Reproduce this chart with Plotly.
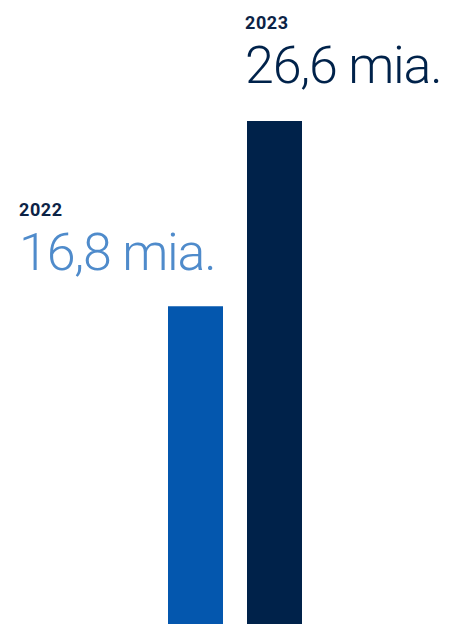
import plotly.graph_objects as go

years = ["2022", "2023"]
values = [16.8, 26.6]
value_labels = ["16,8 mia.", "26,6 mia."]
bar_colors = ["#0457AE", "#00224A"]
value_colors = ["#4F8BCB", "#00224A"]
year_color = "#0C2346"

W, H = 467, 624
px_per_unit = 503 / 26.6
ymax = H / px_per_unit
step = 79.0
c0 = 195.5
xmin = -c0 / step
xmax = xmin + W / step

fig = go.Figure()
fig.add_trace(go.Bar(
    x=[0, 1], y=values, width=55 / step,
    marker=dict(color=bar_colors, line=dict(width=0)),
    hoverinfo="skip",
))

# label box positions in pixels: (left x, bottom y)
label_pos = [(17.0, 285.0), (242.5, 98.0)]
font = "Roboto, Arial, sans-serif"
for i, (lx, by) in enumerate(label_pos):
    txt = ("<span style='font-size:18px;font-weight:700;letter-spacing:0.6px;color:%s'>%s</span><br>"
           "<span style='font-size:52px;font-weight:300;letter-spacing:-1.2px;color:%s'>%s</span>"
           % (year_color, years[i], value_colors[i], value_labels[i]))
    fig.add_annotation(x=lx / W, y=1 - by / H, xref="paper", yref="paper",
                       xanchor="left", yanchor="bottom", showarrow=False,
                       align="left", text=txt,
                       font=dict(family=font, size=41.5, color=value_colors[i]))

fig.update_layout(
    width=W, height=H, margin=dict(l=0, r=0, t=0, b=0),
    paper_bgcolor="white", plot_bgcolor="white", showlegend=False,
    xaxis=dict(range=[xmin, xmax], visible=False, fixedrange=True),
    yaxis=dict(range=[0, ymax], visible=False, fixedrange=True),
)
fig.write_html("out.html", config={"displayModeBar": False})
